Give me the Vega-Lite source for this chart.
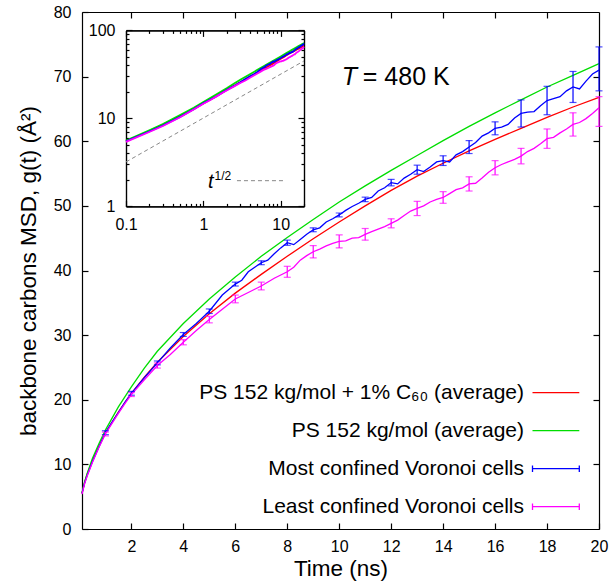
{
"$schema": "https://vega.github.io/schema/vega-lite/v6.json",
"width": 517, "height": 517,
"autosize": {"type": "none"},
"padding": {"left": 82, "top": 12, "right": 12, "bottom": 52},
"background": "white",
"config": {
  "view": {"stroke": null},
  "font": "Liberation Sans",
  "axis": {"domainColor": "black", "tickColor": "black", "labelColor": "black", "titleColor": "black", "labelFont": "Liberation Sans", "titleFont": "Liberation Sans", "labelFontSize": 16, "titleFontSize": 22.5, "titleFontWeight": "normal", "grid": false, "domainWidth": 1.2, "tickWidth": 1.2, "labelFlush": false, "labelOverlap": false}
},
"datasets": {
"lines": [
{"series":"PS 152 kg/mol + 1% C₆₀ (average)","t":0.1,"msd":5.5},{"series":"PS 152 kg/mol + 1% C₆₀ (average)","t":0.2,"msd":7.2},{"series":"PS 152 kg/mol + 1% C₆₀ (average)","t":0.3,"msd":8.5},{"series":"PS 152 kg/mol + 1% C₆₀ (average)","t":0.5,"msd":10.6},{"series":"PS 152 kg/mol + 1% C₆₀ (average)","t":0.75,"msd":12.8},{"series":"PS 152 kg/mol + 1% C₆₀ (average)","t":1,"msd":14.8},{"series":"PS 152 kg/mol + 1% C₆₀ (average)","t":1.5,"msd":18.1},{"series":"PS 152 kg/mol + 1% C₆₀ (average)","t":2,"msd":21.0},{"series":"PS 152 kg/mol + 1% C₆₀ (average)","t":2.5,"msd":23.5},{"series":"PS 152 kg/mol + 1% C₆₀ (average)","t":3,"msd":25.8},{"series":"PS 152 kg/mol + 1% C₆₀ (average)","t":4,"msd":29.8},{"series":"PS 152 kg/mol + 1% C₆₀ (average)","t":5,"msd":33.3},{"series":"PS 152 kg/mol + 1% C₆₀ (average)","t":6,"msd":36.5},{"series":"PS 152 kg/mol + 1% C₆₀ (average)","t":7,"msd":39.4},{"series":"PS 152 kg/mol + 1% C₆₀ (average)","t":8,"msd":42.2},{"series":"PS 152 kg/mol + 1% C₆₀ (average)","t":9,"msd":44.9},{"series":"PS 152 kg/mol + 1% C₆₀ (average)","t":10,"msd":47.5},{"series":"PS 152 kg/mol + 1% C₆₀ (average)","t":11,"msd":50.0},{"series":"PS 152 kg/mol + 1% C₆₀ (average)","t":12,"msd":52.4},{"series":"PS 152 kg/mol + 1% C₆₀ (average)","t":13,"msd":54.6},{"series":"PS 152 kg/mol + 1% C₆₀ (average)","t":14,"msd":56.6},{"series":"PS 152 kg/mol + 1% C₆₀ (average)","t":15,"msd":58.5},{"series":"PS 152 kg/mol + 1% C₆₀ (average)","t":16,"msd":60.3},{"series":"PS 152 kg/mol + 1% C₆₀ (average)","t":17,"msd":62.0},{"series":"PS 152 kg/mol + 1% C₆₀ (average)","t":18,"msd":63.7},{"series":"PS 152 kg/mol + 1% C₆₀ (average)","t":19,"msd":65.3},{"series":"PS 152 kg/mol + 1% C₆₀ (average)","t":20,"msd":66.8},
{"series":"PS 152 kg/mol (average)","t":0.1,"msd":5.6},{"series":"PS 152 kg/mol (average)","t":0.2,"msd":7.3},{"series":"PS 152 kg/mol (average)","t":0.3,"msd":8.6},{"series":"PS 152 kg/mol (average)","t":0.5,"msd":10.9},{"series":"PS 152 kg/mol (average)","t":0.75,"msd":13.2},{"series":"PS 152 kg/mol (average)","t":1,"msd":15.3},{"series":"PS 152 kg/mol (average)","t":1.5,"msd":18.9},{"series":"PS 152 kg/mol (average)","t":2,"msd":22.0},{"series":"PS 152 kg/mol (average)","t":2.5,"msd":24.9},{"series":"PS 152 kg/mol (average)","t":3,"msd":27.5},{"series":"PS 152 kg/mol (average)","t":4,"msd":31.8},{"series":"PS 152 kg/mol (average)","t":5,"msd":35.6},{"series":"PS 152 kg/mol (average)","t":6,"msd":39.0},{"series":"PS 152 kg/mol (average)","t":7,"msd":42.2},{"series":"PS 152 kg/mol (average)","t":8,"msd":45.1},{"series":"PS 152 kg/mol (average)","t":9,"msd":47.9},{"series":"PS 152 kg/mol (average)","t":10,"msd":50.6},{"series":"PS 152 kg/mol (average)","t":11,"msd":53.1},{"series":"PS 152 kg/mol (average)","t":12,"msd":55.5},{"series":"PS 152 kg/mol (average)","t":13,"msd":57.8},{"series":"PS 152 kg/mol (average)","t":14,"msd":60.1},{"series":"PS 152 kg/mol (average)","t":15,"msd":62.3},{"series":"PS 152 kg/mol (average)","t":16,"msd":64.4},{"series":"PS 152 kg/mol (average)","t":17,"msd":66.4},{"series":"PS 152 kg/mol (average)","t":18,"msd":68.4},{"series":"PS 152 kg/mol (average)","t":19,"msd":70.2},{"series":"PS 152 kg/mol (average)","t":20,"msd":72.0},
{"series":"Most confined Voronoi cells","t":0.1,"msd":5.5},{"series":"Most confined Voronoi cells","t":0.2,"msd":7.1},{"series":"Most confined Voronoi cells","t":0.3,"msd":8.3},{"series":"Most confined Voronoi cells","t":0.5,"msd":10.4},{"series":"Most confined Voronoi cells","t":0.75,"msd":12.7},{"series":"Most confined Voronoi cells","t":1,"msd":14.9},{"series":"Most confined Voronoi cells","t":1.25,"msd":16.5},{"series":"Most confined Voronoi cells","t":1.5,"msd":18.0},{"series":"Most confined Voronoi cells","t":1.75,"msd":19.6},{"series":"Most confined Voronoi cells","t":2,"msd":21.0},{"series":"Most confined Voronoi cells","t":2.5,"msd":23.4},{"series":"Most confined Voronoi cells","t":3,"msd":25.7},{"series":"Most confined Voronoi cells","t":3.5,"msd":28.0},{"series":"Most confined Voronoi cells","t":4,"msd":30.1},{"series":"Most confined Voronoi cells","t":4.5,"msd":31.8},{"series":"Most confined Voronoi cells","t":5,"msd":33.7},{"series":"Most confined Voronoi cells","t":5.5,"msd":36.2},{"series":"Most confined Voronoi cells","t":6,"msd":37.9},{"series":"Most confined Voronoi cells","t":6.25,"msd":38.5},{"series":"Most confined Voronoi cells","t":6.5,"msd":39.8},{"series":"Most confined Voronoi cells","t":6.75,"msd":40.5},{"series":"Most confined Voronoi cells","t":7,"msd":41.2},{"series":"Most confined Voronoi cells","t":7.25,"msd":41.6},{"series":"Most confined Voronoi cells","t":7.5,"msd":42.6},{"series":"Most confined Voronoi cells","t":7.75,"msd":43.5},{"series":"Most confined Voronoi cells","t":8,"msd":44.3},{"series":"Most confined Voronoi cells","t":8.25,"msd":44.0},{"series":"Most confined Voronoi cells","t":8.5,"msd":44.8},{"series":"Most confined Voronoi cells","t":8.75,"msd":45.6},{"series":"Most confined Voronoi cells","t":9,"msd":46.3},{"series":"Most confined Voronoi cells","t":9.25,"msd":46.6},{"series":"Most confined Voronoi cells","t":9.5,"msd":47.5},{"series":"Most confined Voronoi cells","t":9.75,"msd":48.0},{"series":"Most confined Voronoi cells","t":10,"msd":48.6},{"series":"Most confined Voronoi cells","t":10.25,"msd":49.3},{"series":"Most confined Voronoi cells","t":10.5,"msd":49.9},{"series":"Most confined Voronoi cells","t":10.75,"msd":50.4},{"series":"Most confined Voronoi cells","t":11,"msd":51.0},{"series":"Most confined Voronoi cells","t":11.25,"msd":51.3},{"series":"Most confined Voronoi cells","t":11.5,"msd":52.3},{"series":"Most confined Voronoi cells","t":11.75,"msd":52.8},{"series":"Most confined Voronoi cells","t":12,"msd":53.6},{"series":"Most confined Voronoi cells","t":12.25,"msd":53.4},{"series":"Most confined Voronoi cells","t":12.5,"msd":54.3},{"series":"Most confined Voronoi cells","t":12.75,"msd":54.9},{"series":"Most confined Voronoi cells","t":13,"msd":55.6},{"series":"Most confined Voronoi cells","t":13.25,"msd":55.3},{"series":"Most confined Voronoi cells","t":13.5,"msd":56.0},{"series":"Most confined Voronoi cells","t":13.75,"msd":56.8},{"series":"Most confined Voronoi cells","t":14,"msd":57.0},{"series":"Most confined Voronoi cells","t":14.25,"msd":56.8},{"series":"Most confined Voronoi cells","t":14.5,"msd":57.9},{"series":"Most confined Voronoi cells","t":14.75,"msd":58.4},{"series":"Most confined Voronoi cells","t":15,"msd":59.1},{"series":"Most confined Voronoi cells","t":15.25,"msd":59.8},{"series":"Most confined Voronoi cells","t":15.5,"msd":60.8},{"series":"Most confined Voronoi cells","t":15.75,"msd":61.3},{"series":"Most confined Voronoi cells","t":16,"msd":62.0},{"series":"Most confined Voronoi cells","t":16.25,"msd":62.2},{"series":"Most confined Voronoi cells","t":16.5,"msd":62.6},{"series":"Most confined Voronoi cells","t":16.75,"msd":63.6},{"series":"Most confined Voronoi cells","t":17,"msd":64.3},{"series":"Most confined Voronoi cells","t":17.25,"msd":64.5},{"series":"Most confined Voronoi cells","t":17.5,"msd":64.6},{"series":"Most confined Voronoi cells","t":17.75,"msd":65.5},{"series":"Most confined Voronoi cells","t":18,"msd":66.3},{"series":"Most confined Voronoi cells","t":18.25,"msd":66.6},{"series":"Most confined Voronoi cells","t":18.5,"msd":66.9},{"series":"Most confined Voronoi cells","t":18.75,"msd":67.8},{"series":"Most confined Voronoi cells","t":19,"msd":68.4},{"series":"Most confined Voronoi cells","t":19.25,"msd":68.1},{"series":"Most confined Voronoi cells","t":19.5,"msd":69.3},{"series":"Most confined Voronoi cells","t":19.75,"msd":70.4},{"series":"Most confined Voronoi cells","t":20,"msd":71.0},
{"series":"Least confined Voronoi cells","t":0.1,"msd":5.4},{"series":"Least confined Voronoi cells","t":0.2,"msd":7.0},{"series":"Least confined Voronoi cells","t":0.3,"msd":8.2},{"series":"Least confined Voronoi cells","t":0.5,"msd":10.3},{"series":"Least confined Voronoi cells","t":0.75,"msd":12.6},{"series":"Least confined Voronoi cells","t":1,"msd":14.7},{"series":"Least confined Voronoi cells","t":1.25,"msd":16.3},{"series":"Least confined Voronoi cells","t":1.5,"msd":17.9},{"series":"Least confined Voronoi cells","t":1.75,"msd":19.4},{"series":"Least confined Voronoi cells","t":2,"msd":20.8},{"series":"Least confined Voronoi cells","t":2.5,"msd":23.1},{"series":"Least confined Voronoi cells","t":3,"msd":25.3},{"series":"Least confined Voronoi cells","t":3.5,"msd":27.0},{"series":"Least confined Voronoi cells","t":4,"msd":28.9},{"series":"Least confined Voronoi cells","t":4.5,"msd":30.7},{"series":"Least confined Voronoi cells","t":5,"msd":32.4},{"series":"Least confined Voronoi cells","t":5.5,"msd":34.0},{"series":"Least confined Voronoi cells","t":6,"msd":35.6},{"series":"Least confined Voronoi cells","t":6.5,"msd":36.6},{"series":"Least confined Voronoi cells","t":7,"msd":37.6},{"series":"Least confined Voronoi cells","t":7.5,"msd":38.8},{"series":"Least confined Voronoi cells","t":8,"msd":39.8},{"series":"Least confined Voronoi cells","t":8.25,"msd":40.5},{"series":"Least confined Voronoi cells","t":8.5,"msd":41.6},{"series":"Least confined Voronoi cells","t":8.75,"msd":42.3},{"series":"Least confined Voronoi cells","t":9,"msd":42.9},{"series":"Least confined Voronoi cells","t":9.25,"msd":43.3},{"series":"Least confined Voronoi cells","t":9.5,"msd":43.8},{"series":"Least confined Voronoi cells","t":9.75,"msd":44.2},{"series":"Least confined Voronoi cells","t":10,"msd":44.5},{"series":"Least confined Voronoi cells","t":10.25,"msd":44.6},{"series":"Least confined Voronoi cells","t":10.5,"msd":45.0},{"series":"Least confined Voronoi cells","t":10.75,"msd":45.1},{"series":"Least confined Voronoi cells","t":11,"msd":45.6},{"series":"Least confined Voronoi cells","t":11.25,"msd":46.0},{"series":"Least confined Voronoi cells","t":11.5,"msd":46.4},{"series":"Least confined Voronoi cells","t":11.75,"msd":46.8},{"series":"Least confined Voronoi cells","t":12,"msd":47.3},{"series":"Least confined Voronoi cells","t":12.25,"msd":47.8},{"series":"Least confined Voronoi cells","t":12.5,"msd":48.5},{"series":"Least confined Voronoi cells","t":12.75,"msd":49.2},{"series":"Least confined Voronoi cells","t":13,"msd":49.6},{"series":"Least confined Voronoi cells","t":13.25,"msd":50.0},{"series":"Least confined Voronoi cells","t":13.5,"msd":50.6},{"series":"Least confined Voronoi cells","t":13.75,"msd":51.0},{"series":"Least confined Voronoi cells","t":14,"msd":51.3},{"series":"Least confined Voronoi cells","t":14.25,"msd":51.9},{"series":"Least confined Voronoi cells","t":14.5,"msd":52.5},{"series":"Least confined Voronoi cells","t":14.75,"msd":52.8},{"series":"Least confined Voronoi cells","t":15,"msd":53.4},{"series":"Least confined Voronoi cells","t":15.25,"msd":53.5},{"series":"Least confined Voronoi cells","t":15.5,"msd":54.3},{"series":"Least confined Voronoi cells","t":15.75,"msd":55.2},{"series":"Least confined Voronoi cells","t":16,"msd":55.9},{"series":"Least confined Voronoi cells","t":16.25,"msd":56.4},{"series":"Least confined Voronoi cells","t":16.5,"msd":56.8},{"series":"Least confined Voronoi cells","t":16.75,"msd":57.2},{"series":"Least confined Voronoi cells","t":17,"msd":57.7},{"series":"Least confined Voronoi cells","t":17.25,"msd":58.4},{"series":"Least confined Voronoi cells","t":17.5,"msd":58.9},{"series":"Least confined Voronoi cells","t":17.75,"msd":59.6},{"series":"Least confined Voronoi cells","t":18,"msd":60.4},{"series":"Least confined Voronoi cells","t":18.25,"msd":60.6},{"series":"Least confined Voronoi cells","t":18.5,"msd":61.3},{"series":"Least confined Voronoi cells","t":18.75,"msd":61.9},{"series":"Least confined Voronoi cells","t":19,"msd":62.6},{"series":"Least confined Voronoi cells","t":19.25,"msd":62.9},{"series":"Least confined Voronoi cells","t":19.5,"msd":63.5},{"series":"Least confined Voronoi cells","t":19.75,"msd":64.3},{"series":"Least confined Voronoi cells","t":20,"msd":65.2}
],
"bars": [
{"series":"Most confined Voronoi cells","t":1,"msd":14.9,"err":0.3},{"series":"Most confined Voronoi cells","t":2,"msd":21.0,"err":0.3},{"series":"Most confined Voronoi cells","t":3,"msd":25.7,"err":0.3},{"series":"Most confined Voronoi cells","t":4,"msd":30.1,"err":0.3},{"series":"Most confined Voronoi cells","t":5,"msd":33.7,"err":0.35},{"series":"Most confined Voronoi cells","t":6,"msd":37.9,"err":0.3},{"series":"Most confined Voronoi cells","t":7,"msd":41.2,"err":0.3},{"series":"Most confined Voronoi cells","t":8,"msd":44.3,"err":0.4},{"series":"Most confined Voronoi cells","t":9,"msd":46.3,"err":0.3},{"series":"Most confined Voronoi cells","t":10,"msd":48.6,"err":0.3},{"series":"Most confined Voronoi cells","t":11,"msd":51.0,"err":0.35},{"series":"Most confined Voronoi cells","t":12,"msd":53.6,"err":0.5},{"series":"Most confined Voronoi cells","t":13,"msd":55.6,"err":0.7},{"series":"Most confined Voronoi cells","t":14,"msd":57.0,"err":0.75},{"series":"Most confined Voronoi cells","t":15,"msd":59.1,"err":1.0},{"series":"Most confined Voronoi cells","t":16,"msd":62.0,"err":1.0},{"series":"Most confined Voronoi cells","t":17,"msd":64.3,"err":2.1},{"series":"Most confined Voronoi cells","t":18,"msd":66.3,"err":2.2},{"series":"Most confined Voronoi cells","t":19,"msd":68.4,"err":2.4},{"series":"Most confined Voronoi cells","t":20,"msd":71.2,"err":3.4},
{"series":"Least confined Voronoi cells","t":1,"msd":14.7,"err":0.3},{"series":"Least confined Voronoi cells","t":2,"msd":20.8,"err":0.3},{"series":"Least confined Voronoi cells","t":3,"msd":25.3,"err":0.4},{"series":"Least confined Voronoi cells","t":4,"msd":28.9,"err":0.4},{"series":"Least confined Voronoi cells","t":5,"msd":32.4,"err":0.5},{"series":"Least confined Voronoi cells","t":6,"msd":35.6,"err":0.6},{"series":"Least confined Voronoi cells","t":7,"msd":37.6,"err":0.6},{"series":"Least confined Voronoi cells","t":8,"msd":39.8,"err":0.85},{"series":"Least confined Voronoi cells","t":9,"msd":42.9,"err":0.95},{"series":"Least confined Voronoi cells","t":10,"msd":44.5,"err":1.0},{"series":"Least confined Voronoi cells","t":11,"msd":45.6,"err":0.9},{"series":"Least confined Voronoi cells","t":12,"msd":47.3,"err":0.7},{"series":"Least confined Voronoi cells","t":13,"msd":49.6,"err":1.1},{"series":"Least confined Voronoi cells","t":14,"msd":51.3,"err":0.9},{"series":"Least confined Voronoi cells","t":15,"msd":53.4,"err":1.1},{"series":"Least confined Voronoi cells","t":16,"msd":55.9,"err":1.1},{"series":"Least confined Voronoi cells","t":17,"msd":57.7,"err":1.2},{"series":"Least confined Voronoi cells","t":18,"msd":60.4,"err":1.5},{"series":"Least confined Voronoi cells","t":19,"msd":62.6,"err":1.8},{"series":"Least confined Voronoi cells","t":20,"msd":64.6,"err":2.3}
],
"halfpower": [{"t":0.1,"msd":3.2},{"t":20,"msd":45}]
},
"resolve": {"scale": {"x": "independent", "y": "independent"}},
"layer": [
{
  "resolve": {"axis": {"x": "independent", "y": "independent"}},
  "layer": [
    {
      "data": {"name": "lines"},
      "mark": {"type": "line", "strokeWidth": 1.3},
      "encoding": {
        "x": {"field": "t", "type": "quantitative", "scale": {"domain": [0.1, 20], "nice": false, "zero": false},
              "axis": {"orient": "bottom", "values": [2,4,6,8,10,12,14,16,18,20], "tickSize": -6, "labelPadding": 15, "title": "Time (ns)", "titlePadding": 3}},
        "y": {"field": "msd", "type": "quantitative", "scale": {"domain": [0, 80], "nice": false},
              "axis": {"orient": "left", "values": [0,10,20,30,40,50,60,70,80], "tickSize": -6, "labelPadding": 17, "title": "backbone carbons MSD, g(t) (Å²)", "titlePadding": 13}},
        "color": {"field": "series", "type": "nominal",
          "scale": {"domain": ["PS 152 kg/mol + 1% C₆₀ (average)", "PS 152 kg/mol (average)", "Most confined Voronoi cells", "Least confined Voronoi cells"], "range": ["#ff0000", "#00dd00", "#0000ff", "#ff00ff"]},
          "legend": {"title": null, "orient": "none", "legendX": 463.4, "legendY": 370.2, "padding": 0,
            "labelAlign": "right", "labelOffset": -42.4, "labelFontSize": 21, "labelFont": "Liberation Sans", "labelColor": "black", "labelLimit": 600,
            "symbolSize": 36, "symbolStrokeWidth": 1.3, "rowPadding": 16, "symbolType": "M-7.8,0H7.8",
            "encode": {"symbols": {"update": {"shape": {"signal": "indexof(['Most confined Voronoi cells','Least confined Voronoi cells'], datum.value) >= 0 ? 'M-7.8,0H7.8M-7.8,-1.1V1.1M7.8,-1.1V1.1' : 'M-7.8,0H7.8'"}}}}}
        }
      }
    },
    {
      "data": {"name": "bars"},
      "mark": {"type": "errorbar", "ticks": true, "size": 7, "thickness": 1.2},
      "encoding": {
        "x": {"field": "t", "type": "quantitative", "scale": {"domain": [0.1, 20], "nice": false, "zero": false},
              "axis": {"orient": "top", "values": [2,4,6,8,10,12,14,16,18], "tickSize": -6, "labels": false, "title": null}},
        "y": {"field": "msd", "type": "quantitative", "scale": {"domain": [0, 80], "nice": false},
              "axis": {"orient": "right", "values": [10,20,30,40,50,60,70], "tickSize": -6, "labels": false, "title": null}},
        "yError": {"field": "err"},
        "color": {"field": "series", "type": "nominal", "legend": null}
      }
    },
    {
      "data": {"values": [{}]},
      "mark": {"type": "text", "align": "left", "baseline": "alphabetic", "fontSize": 25, "fontStyle": "italic", "font": "Liberation Sans", "color": "black"},
      "encoding": {"x": {"datum": 10.1, "type": "quantitative", "axis": null}, "y": {"datum": 68.7, "type": "quantitative", "axis": null}, "text": {"value": "T"}}
    },
    {
      "data": {"values": [{}]},
      "mark": {"type": "text", "align": "left", "baseline": "alphabetic", "fontSize": 25, "font": "Liberation Sans", "color": "black", "dx": 21},
      "encoding": {"x": {"datum": 10.1, "type": "quantitative", "axis": null}, "y": {"datum": 68.7, "type": "quantitative", "axis": null}, "text": {"value": "= 480 K"}}
    }
  ]
},
{
  "resolve": {"axis": {"x": "independent", "y": "independent"}},
  "layer": [
    {
      "data": {"name": "lines"},
      "mark": {"type": "line", "strokeWidth": 1.8},
      "encoding": {
        "x": {"field": "t", "type": "quantitative", "scale": {"type": "log", "domain": [0.1, 20], "range": [44, 222], "nice": false},
              "axis": {"orient": "bottom", "offset": -322.6, "values": [0.1, 1, 10], "format": "~g", "tickSize": -6, "labelPadding": 16, "title": null}},
        "y": {"field": "msd", "type": "quantitative", "scale": {"type": "log", "domain": [1, 100], "range": [194.4, 18.4], "nice": false},
              "axis": {"orient": "left", "offset": -44, "values": [1, 10, 100], "format": "~g", "tickSize": -6, "labelPadding": 17, "title": null}},
        "color": {"field": "series", "type": "nominal", "legend": null}
      }
    },
    {
      "data": {"name": "halfpower"},
      "mark": {"type": "line", "strokeWidth": 1, "color": "#888888", "strokeDash": [4, 3]},
      "encoding": {
        "x": {"field": "t", "type": "quantitative", "scale": {"type": "log", "domain": [0.1, 20], "range": [44, 222], "nice": false},
              "axis": {"orient": "top", "offset": -18.4, "values": [0.1, 1, 10], "tickSize": -6, "labels": false, "title": null}},
        "y": {"field": "msd", "type": "quantitative", "scale": {"type": "log", "domain": [1, 100], "range": [194.4, 18.4], "nice": false},
              "axis": {"orient": "right", "offset": -295, "values": [1, 10, 100], "tickSize": -6, "labels": false, "title": null}}
      }
    },
    {
      "data": {"values": [{}]},
      "mark": {"type": "rule", "strokeWidth": 1, "color": "#888888", "strokeDash": [4, 3]},
      "encoding": {
        "x": {"datum": 2.72, "type": "quantitative", "scale": {"type": "log", "domain": [0.1, 20], "range": [44, 222], "nice": false},
              "axis": {"orient": "bottom", "offset": -322.6, "values": [0.2,0.3,0.4,0.5,0.6,0.7,0.8,0.9,2,3,4,5,6,7,8,9,20], "tickSize": -3, "labels": false, "title": null}},
        "x2": {"datum": 11.03},
        "y": {"datum": 1.96, "type": "quantitative", "scale": {"type": "log", "domain": [1, 100], "range": [194.4, 18.4], "nice": false},
              "axis": {"orient": "left", "offset": -44, "values": [2,3,4,5,6,7,8,9,20,30,40,50,60,70,80,90], "tickSize": -3, "labels": false, "title": null}}
      }
    },
    {
      "data": {"values": [{}]},
      "mark": {"type": "text", "align": "right", "baseline": "alphabetic", "fontSize": 20, "fontStyle": "italic", "font": "Liberation Sans", "color": "black"},
      "encoding": {
        "x": {"datum": 1.353, "type": "quantitative", "scale": {"type": "log", "domain": [0.1, 20], "range": [44, 222], "nice": false},
              "axis": {"orient": "top", "offset": -18.4, "values": [0.2,0.3,0.4,0.5,0.6,0.7,0.8,0.9,2,3,4,5,6,7,8,9,20], "tickSize": -3, "labels": false, "title": null}},
        "y": {"datum": 1.63, "type": "quantitative", "scale": {"type": "log", "domain": [1, 100], "range": [194.4, 18.4], "nice": false},
              "axis": {"orient": "right", "offset": -295, "values": [2,3,4,5,6,7,8,9,20,30,40,50,60,70,80,90], "tickSize": -3, "labels": false, "title": null}},
        "text": {"value": "t"}
      }
    },
    {
      "data": {"values": [{}]},
      "mark": {"type": "text", "align": "left", "baseline": "alphabetic", "fontSize": 12, "font": "Liberation Sans", "color": "black", "dx": 1, "dy": -8},
      "encoding": {
        "x": {"datum": 1.353, "type": "quantitative", "axis": null},
        "y": {"datum": 1.63, "type": "quantitative", "axis": null},
        "text": {"value": "1/2"}
      }
    }
  ]
}
]
}
